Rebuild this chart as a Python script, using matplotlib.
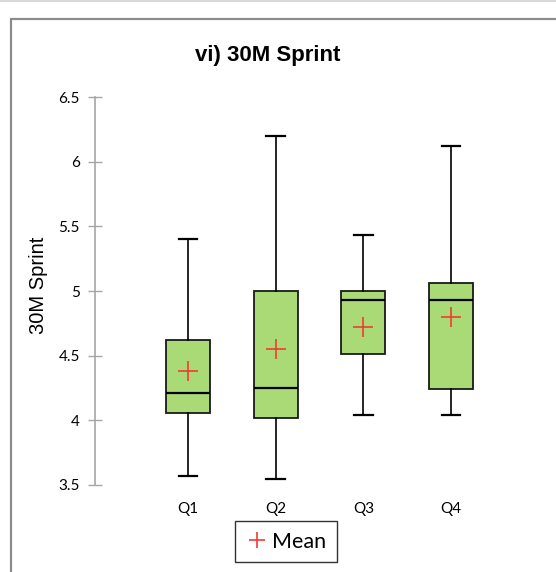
import matplotlib.pyplot as plt
from matplotlib.lines import Line2D
from matplotlib.patches import Rectangle
from matplotlib.ticker import FuncFormatter

# quartile summary per group
groups = ['Q1', 'Q2', 'Q3', 'Q4']
whis_lo = [3.57, 3.55, 4.04, 4.04]
q1s = [4.06, 4.02, 4.51, 4.24]
medians = [4.21, 4.25, 4.93, 4.93]
q3s = [4.62, 5.00, 5.00, 5.06]
whis_hi = [5.40, 6.20, 5.43, 6.12]
means = [4.38, 4.55, 4.72, 4.80]

W, H = 556, 572
fig = plt.figure(figsize=(W / 100, H / 100), dpi=100)

# outer frame + thin line at the very top
fig.add_artist(Line2D([0, 1], [1 - 1 / H, 1 - 1 / H], transform=fig.transFigure,
                      color='#d9d9d9', lw=1.5))
fig.add_artist(Rectangle((11 / W, -0.2), 1.2, 1.2 - 19 / H, transform=fig.transFigure,
                         fill=False, edgecolor='#8c8c8c', lw=1.6))

ax_l, ax_r, ax_t, ax_b = 95, 540, 97, 485
ax = fig.add_axes([ax_l / W, 1 - ax_b / H, (ax_r - ax_l) / W, (ax_b - ax_t) / H])

stats = []
for i, g in enumerate(groups):
    stats.append(dict(label=g, whislo=whis_lo[i], q1=q1s[i], med=medians[i],
                      q3=q3s[i], whishi=whis_hi[i], mean=means[i], fliers=[]))

pos = [1, 2, 3, 4]
ax.bxp(stats, positions=pos, widths=0.5, capwidths=0.21, patch_artist=True,
       showmeans=True, showfliers=False,
       boxprops=dict(facecolor='#a9da76', edgecolor='#1a1a1a', lw=1.3),
       medianprops=dict(color='black', lw=1.6),
       whiskerprops=dict(color='black', lw=1.2),
       capprops=dict(color='black', lw=1.6),
       meanprops=dict(marker='+', markersize=15, markeredgecolor='#f03c32',
                      markeredgewidth=1.2))

step = 87.67
ax.set_xlim(1 - (188 - ax_l) / step, 1 + (ax_r - 188) / step)
ax.set_ylim(3.5, 6.5)
ax.set_yticks([3.5, 4, 4.5, 5, 5.5, 6, 6.5])
ax.yaxis.set_major_formatter(FuncFormatter(lambda v, p: f'{v:g}'))

for s in ['top', 'right', 'bottom']:
    ax.spines[s].set_visible(False)
ax.spines['left'].set_color('#a6a6a6')
ax.spines['left'].set_linewidth(1.2)
ax.tick_params(axis='y', direction='inout', length=10, width=1, color='#a6a6a6',
               pad=6, labelsize=11, labelcolor='black')
ax.tick_params(axis='x', length=0, pad=12, labelsize=11)
for lab in ax.get_xticklabels() + ax.get_yticklabels():
    lab.set_family('Lato')

fig.text(268 / W, 1 - 55 / H, 'vi) 30M Sprint', ha='center', va='center',
         family='Liberation Sans', fontweight='bold', fontsize=16)
fig.text(39 / W, 1 - 285.5 / H, '30M Sprint', ha='center', va='center', rotation=90,
         family='Liberation Sans', fontsize=14.5)

handle = Line2D([], [], ls='none', marker='+', markersize=12,
                markeredgecolor='#f03c32', markeredgewidth=1.2)
leg = fig.legend([handle], ['Mean'], loc='center', bbox_to_anchor=(286 / W, 1 - 541.5 / H),
                 frameon=True, fancybox=False, edgecolor='black', handlelength=1.0,
                 handletextpad=0.2, borderpad=0.5, prop=dict(family='Lato', size=15.5))
leg.get_frame().set_linewidth(1.0)

fig.savefig('out.png', dpi=100)
